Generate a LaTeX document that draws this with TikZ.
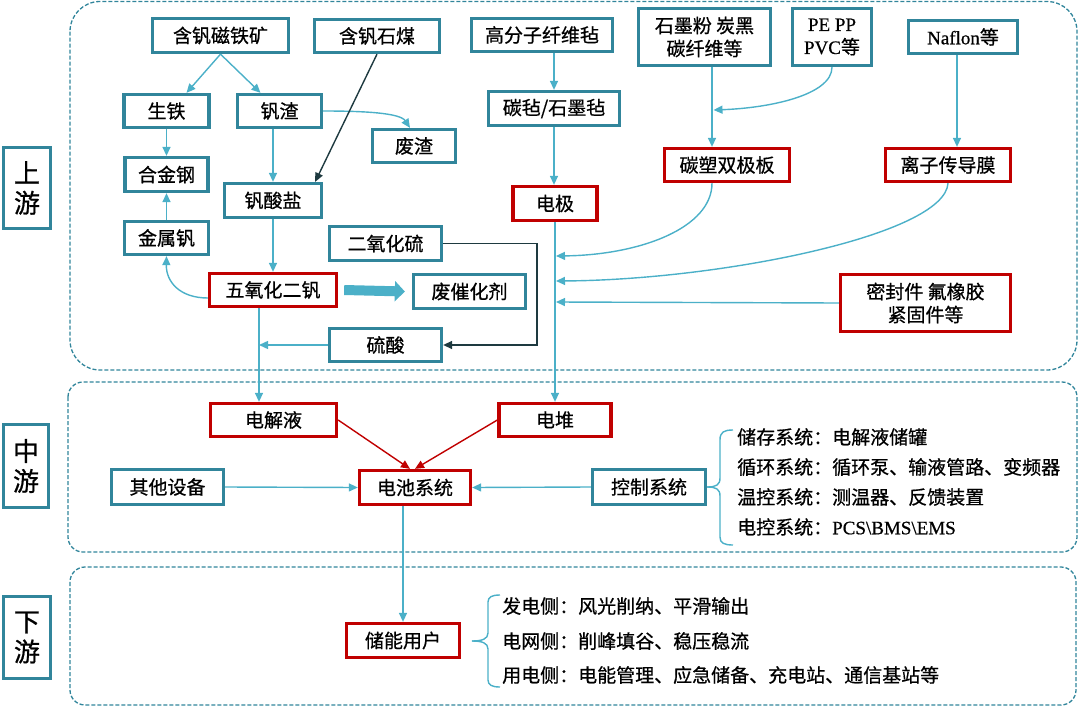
\documentclass[tikz,border=0pt]{standalone}
\usepackage{fontspec}
\setmainfont{Noto Sans CJK SC}[FakeBold=0.7]
\newfontfamily\lat{Liberation Serif}[FakeBold=0.7]
\usetikzlibrary{arrows.meta}
\definecolor{tealb}{RGB}{49,133,155}
\definecolor{lb}{RGB}{75,176,200}
\definecolor{rd}{RGB}{192,0,0}
\definecolor{dk}{RGB}{30,58,64}
\newcommand\myfs{\fontsize{19}{23}\selectfont}
\begin{document}
\begin{tikzpicture}[x=1pt,y=-1pt,
 box/.style={draw=tealb, line width=3.3pt, fill=white, inner sep=0pt, align=center, font=\myfs},
 rbox/.style={box, draw=rd},
 sz/.style 2 args={minimum width=#1pt, minimum height=#2pt},
 lab/.style={draw=tealb, line width=3.5pt, fill=white, inner sep=0pt, align=center, font=\fontsize{26}{30}\selectfont},
 txt/.style={inner sep=0pt, anchor=west, font=\myfs},
 frame/.style={draw=tealb, line width=1.3pt, dash pattern=on 4pt off 2pt},
 arr/.style={draw=lb, line width=1.4pt, -{Triangle[length=9pt,width=8pt]}},
 darr/.style={draw=dk, line width=1.4pt, -{Triangle[length=9pt,width=8pt]}},
 rarr/.style={draw=rd, line width=1.4pt, -{Triangle[length=9pt,width=8pt]}},
 big/.style={draw=lb, line width=10pt, -{Triangle[length=10pt,width=20pt]}},
 brc/.style={draw=lb, line width=1.4pt}]
\useasboundingbox (0,0) rectangle (1080,707);
% frames
\draw[frame, rounded corners=30pt] (70,1.5) rectangle (1077,370);
\draw[frame, rounded corners=15pt] (68,382) rectangle (1077,552);
\draw[frame, rounded corners=15pt] (70,567) rectangle (1076,705);
% stage labels
\node[lab, sz={47}{81}] (up) at (27,188) {上\\游};
\node[lab, sz={45}{83}] (mid) at (26,466) {中\\游};
\node[lab, sz={47}{82}] (down) at (27,637.5) {下\\游};
% upstream
\node[box, sz={136}{34}] (mag) at (220.5,35.5) {含钒磁铁矿};
\node[box, sz={125}{33}] (coal) at (377,36) {含钒石煤};
\node[box, sz={141}{33}] (felt) at (542,35) {高分子纤维毡};
\node[box, sz={132}{57}] (gra) at (704.5,37) {石墨粉 炭黑\\碳纤维等};
\node[box, sz={79}{57}] (pe) at (832,37) {{\lat PE PP}\\{\lat PVC}等};
\node[box, sz={109}{33}] (naf) at (963,37) {{\lat Naflon}等};
\node[box, sz={85}{33}] (pig) at (166.5,111) {生铁};
\node[box, sz={84}{33}] (slag) at (279.5,111) {钒渣};
\node[box, sz={83}{33}] (waste) at (414,146) {废渣};
\node[box, sz={131}{34}] (cf) at (554,108.5) {碳毡/石墨毡};
\node[box, sz={83}{34}] (steel) at (166.5,174.5) {合金钢};
\node[box, sz={97}{34}] (vsalt) at (273,200.5) {钒酸盐};
\node[rbox, sz={84}{34}] (elec) at (555,203.5) {电极};
\node[rbox, sz={125}{33}] (bp) at (727,165) {碳塑双极板};
\node[rbox, sz={125}{33}] (mem) at (948,165) {离子传导膜};
\node[box, sz={84}{33}] (vmet) at (166.5,238) {金属钒};
\node[box, sz={112}{34}] (so2) at (385.5,243.5) {二氧化硫};
\node[rbox, sz={127}{33}] (v2o5) at (273,290) {五氧化二钒};
\node[box, sz={112}{34}] (cat) at (469.5,291.5) {废催化剂};
\node[box, sz={112}{33}] (acid) at (385.5,345) {硫酸};
\node[rbox, sz={170}{57}] (seal) at (925.5,303) {密封件 氟橡胶\\紧固件等};
% midstream
\node[rbox, sz={126}{33}] (ely) at (273.5,420) {电解液};
\node[rbox, sz={112}{33}] (stack) at (555,420) {电堆};
\node[box, sz={112}{35}] (other) at (167.5,487) {其他设备};
\node[rbox, sz={111}{34}] (bat) at (415,487.5) {电池系统};
\node[box, sz={113}{35}] (ctrl) at (649,487) {控制系统};
\node[txt] (c1) at (737,437) {储存系统：电解液储罐};
\node[txt] (c2) at (737,467) {循环系统：循环泵、输液管路、变频器};
\node[txt] (c3) at (737,497) {温控系统：测温器、反馈装置};
\node[txt] (c4) at (737,527) {电控系统：{\lat PCS\textbackslash BMS\textbackslash EMS}};
% downstream
\node[rbox, sz={113}{34}] (user) at (403,640.5) {储能用户};
\node[txt] (d1) at (502,606) {发电侧：风光削纳、平滑输出};
\node[txt] (d2) at (502,641) {电网侧：削峰填谷、稳压稳流};
\node[txt] (d3) at (502,675) {用电侧：电能管理、应急储备、充电站、通信基站等};
% helper coordinates
\coordinate (vx) at (259,0);
\coordinate (gx) at (712,0);
\coordinate (mx) at (957,0);
\coordinate (turn) at (537,345);
\coordinate (j1) at (713.5,110);
\coordinate (j2) at (556,256);
\coordinate (j3) at (556,281);
\coordinate (j4) at (556,302);
% upstream connectors
\draw[arr] (mag.south) -- ([xshift=20pt]pig.north);
\draw[arr] (mag.south) -- ([xshift=-19pt]slag.north);
\draw[arr] (pig.south) -- (steel.north);
\draw[arr] (vmet.north) -- (steel.south);
\draw[arr] (vsalt.north |- slag.south) -- (vsalt.north);
\draw[arr] (slag.east) .. controls (365,111) and (400,113) .. ([xshift=-4pt]waste.north);
\draw[darr] (coal.south) -- ([xshift=-8pt]vsalt.north east);
\draw[arr] (vsalt.south) -- (v2o5.north);
\draw[arr] ([yshift=-8pt]v2o5.west) .. controls (180,298) and (166,282) .. (vmet.south);
\draw[big] ([xshift=6pt]v2o5.east) -- ([xshift=-7pt]cat.west);
\draw[darr] (so2.east) -| (turn) -- (acid.east);
\draw[arr] (v2o5.south -| vx) -- (ely.north -| vx);
\draw[arr] (acid.west) -- (acid.west -| vx);
\draw[arr] (felt.south -| cf.north) -- (cf.north);
\draw[arr] (cf.south) -- (cf.south |- elec.north);
\draw[arr] (elec.south) -- (stack.north);
\draw[arr] (gra.south -| gx) -- (bp.north -| gx);
\draw[arr] (pe.south) .. controls (832,95) and (770,108) .. (j1);
\draw[arr] (naf.south -| mx) -- (mem.north -| mx);
\draw[arr] (bp.south -| gx) .. controls (712,228) and (640,255) .. (j2);
\draw[arr] (mem.south) .. controls (945,235) and (720,280) .. (j3);
\draw[arr] (seal.west) -- (j4);
% midstream connectors
\draw[rarr] (ely.east) -- ([xshift=-5pt]bat.north);
\draw[rarr] (stack.west) -- (bat.north);
\draw[arr] (other.east) -- (bat.west);
\draw[arr] (ctrl.west) -- (bat.east);
\draw[brc] (ctrl.east) .. controls (716,487) and (720,485) .. (720,478) -- (720,440) .. controls (720,432) and (724,430) .. (733,430);
\draw[brc] (ctrl.east) .. controls (716,487) and (720,489) .. (720,496) -- (720,537) .. controls (720,543) and (724,545) .. (733,545);
% downstream connectors
\draw[arr] (user.north |- bat.south) -- (user.north);
\coordinate (btip) at (472,641);
\draw[brc] (btip) .. controls (482,641) and (488,639) .. (488,633) -- (488,602) .. controls (488,597) and (492,595) .. (500,595);
\draw[brc] (btip) .. controls (482,641) and (488,643) .. (488,649) -- (488,680) .. controls (488,685) and (492,687) .. (500,687);
\end{tikzpicture}
\end{document}
